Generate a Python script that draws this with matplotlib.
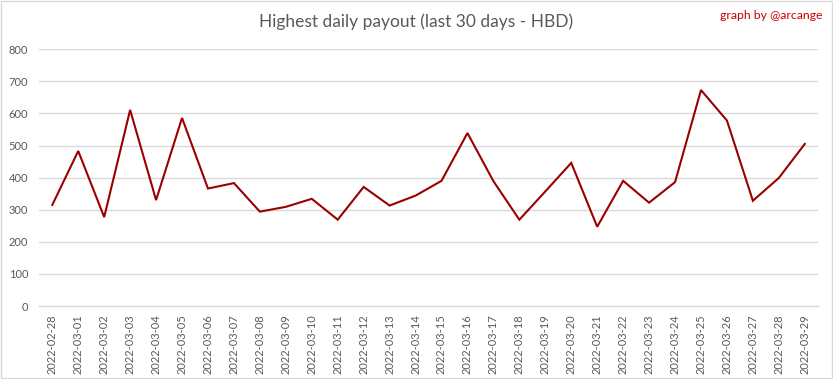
import matplotlib
matplotlib.use("Agg")
import matplotlib.pyplot as plt
from matplotlib.patches import Rectangle

dates = ["2022-02-28", "2022-03-01", "2022-03-02", "2022-03-03", "2022-03-04",
         "2022-03-05", "2022-03-06", "2022-03-07", "2022-03-08", "2022-03-09",
         "2022-03-10", "2022-03-11", "2022-03-12", "2022-03-13", "2022-03-14",
         "2022-03-15", "2022-03-16", "2022-03-17", "2022-03-18", "2022-03-19",
         "2022-03-20", "2022-03-21", "2022-03-22", "2022-03-23", "2022-03-24",
         "2022-03-25", "2022-03-26", "2022-03-27", "2022-03-28", "2022-03-29"]
payout = [315, 483, 277, 611, 330, 586, 366, 383, 294, 309,
          334, 269, 371, 313, 344, 390, 539, 389, 269, 357,
          446, 247, 390, 322, 386, 673, 578, 328, 399, 505]
yticks = [0, 100, 200, 300, 400, 500, 600, 700, 800]

plt.rcParams['font.family'] = ['Lato', 'DejaVu Sans']

fig = plt.figure(figsize=(8.33, 3.79), dpi=100)
ax = fig.add_axes([0.0472, 0.1926, 0.9345, 0.6774])

x = list(range(len(dates)))
ax.plot(x, payout, color="#9b0000", linewidth=1.5, solid_joinstyle="miter")
ax.set_xlim(-0.5, len(dates) - 0.5)
ax.set_ylim(0, 800)
ax.set_yticks(yticks)
ax.set_yticklabels([str(v) for v in yticks])
ax.set_xticks(x)
ax.set_xticklabels(dates, rotation=90)
ax.tick_params(axis="both", length=0, labelsize=8, colors="#595959")
ax.tick_params(axis="x", pad=6)
ax.tick_params(axis="y", pad=8)
for lab in ax.get_yticklabels():
    lab.set_horizontalalignment("right")
ax.grid(axis="y", color="#d9d9d9", linewidth=1)
ax.set_axisbelow(True)
for s in ["top", "right", "left"]:
    ax.spines[s].set_visible(False)
ax.spines["bottom"].set_color("#d9d9d9")
ax.spines["bottom"].set_linewidth(1)

fig.text(0.4995, 0.942, "Highest daily payout (last 30 days - HBD)", ha="center", va="center",
         fontsize=12.5, color="#595959")
fig.text(0.987, 0.96, "graph by @arcange", ha="right", va="center",
         fontsize=8.8, color="#cc0000")

fig.patches.append(Rectangle((0.0012, 0.0026), 0.9976, 0.9948, transform=fig.transFigure,
                             fill=False, edgecolor="#d9d9d9", linewidth=1))

fig.savefig("out.png", dpi=100)
